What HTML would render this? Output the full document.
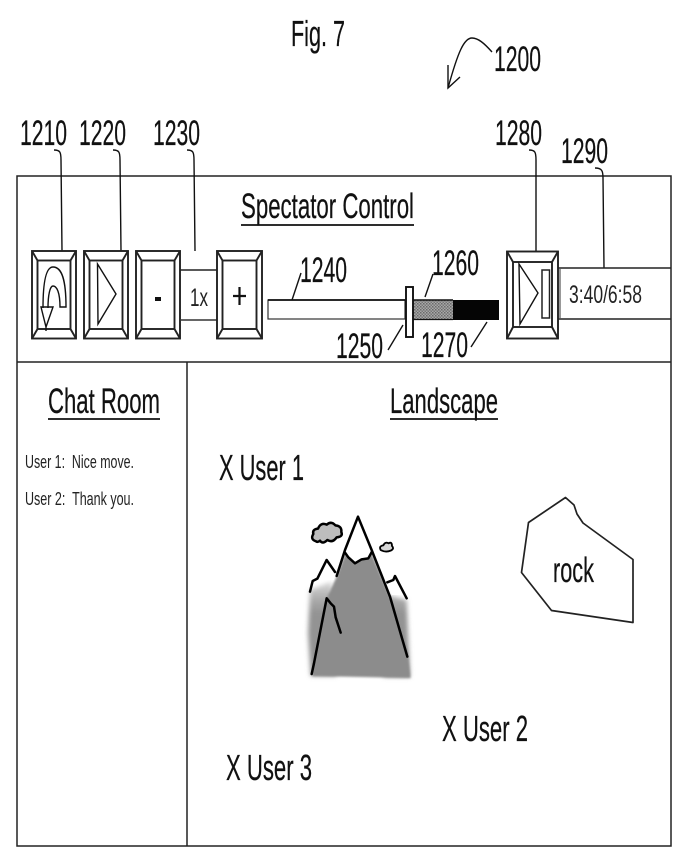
<!DOCTYPE html>
<html>
<head>
<meta charset="utf-8">
<style>
html,body{margin:0;padding:0;background:#fff;}
svg{display:block;}
text{font-family:"Liberation Sans",sans-serif;fill:#111;stroke:#111;stroke-width:0.25;}
.n{font-size:35px;}
.l{fill:none;stroke:#111;stroke-width:1.4;}
.b{fill:none;stroke:#222;stroke-width:1.9;}
</style>
</head>
<body>
<svg width="683" height="867" viewBox="0 0 683 867" xmlns="http://www.w3.org/2000/svg">
<defs>
<pattern id="dots" width="3" height="3" patternUnits="userSpaceOnUse">
<rect width="3" height="3" fill="#a8a8a8"/>
<rect width="1.5" height="1.5" fill="#6a6a6a"/>
<rect x="1.5" y="1.5" width="1.5" height="1.5" fill="#777"/>
</pattern>
<pattern id="mdots" width="9" height="9" patternUnits="userSpaceOnUse">
<rect width="9" height="9" fill="#a0a0a0"/>
<rect width="4.5" height="4.5" fill="#6e6e6e"/>
<rect x="4.5" y="4.5" width="4.5" height="4.5" fill="#7a7a7a"/>
</pattern>
<filter id="soft" x="-10%" y="-10%" width="120%" height="120%"><feGaussianBlur stdDeviation="0.9"/></filter>
<filter id="soft2" x="-30%" y="-30%" width="160%" height="160%"><feGaussianBlur stdDeviation="7"/></filter>
<filter id="soft3" x="-10%" y="-10%" width="120%" height="120%"><feGaussianBlur stdDeviation="3"/></filter>
<linearGradient id="fade" gradientUnits="userSpaceOnUse" x1="0" y1="240" x2="0" y2="340">
<stop offset="0" stop-color="#ddd"/>
<stop offset="0.6" stop-color="#aaa"/>
<stop offset="1" stop-color="#939393"/>
</linearGradient>
</defs>

<!-- Title and figure reference -->
<text x="291" y="46" font-size="36" textLength="54" lengthAdjust="spacingAndGlyphs">Fig. 7</text>
<text x="494" y="71" class="n" textLength="47" lengthAdjust="spacingAndGlyphs">1200</text>
<path class="l" d="M492 52 C484 43 478 38 472 38 C464 38 458 52 448 88"/>
<path class="l" d="M448 65 L448 88 L460 77"/>

<!-- Frame -->
<rect x="17" y="176" width="654" height="670" fill="none" stroke="#222" stroke-width="1.5"/>
<line x1="17" y1="362" x2="671" y2="362" stroke="#222" stroke-width="1.6"/>
<line x1="187" y1="362" x2="187" y2="846" stroke="#222" stroke-width="1.5"/>

<!-- Reference numbers -->
<text x="20" y="145" class="n" textLength="47" lengthAdjust="spacingAndGlyphs">1210</text>
<text x="79" y="145" class="n" textLength="47" lengthAdjust="spacingAndGlyphs">1220</text>
<text x="153" y="145" class="n" textLength="47" lengthAdjust="spacingAndGlyphs">1230</text>
<text x="495" y="145" class="n" textLength="47" lengthAdjust="spacingAndGlyphs">1280</text>
<text x="561" y="163" class="n" textLength="47" lengthAdjust="spacingAndGlyphs">1290</text>
<text x="300" y="282" class="n" textLength="47" lengthAdjust="spacingAndGlyphs">1240</text>
<text x="432" y="275" class="n" textLength="47" lengthAdjust="spacingAndGlyphs">1260</text>
<text x="336" y="358" class="n" textLength="47" lengthAdjust="spacingAndGlyphs">1250</text>
<text x="421" y="357" class="n" textLength="47" lengthAdjust="spacingAndGlyphs">1270</text>

<!-- Leaders -->
<path class="l" d="M54 150 C60 150 61 152 61 160 L62 251"/>
<path class="l" d="M113 150 C119 150 120 152 120 160 L121 251"/>
<path class="l" d="M187 150 C193 150 194 152 194 160 L195 251"/>
<path class="l" d="M529 150 C535 150 536 152 536 160 L536 251"/>
<path class="l" d="M595 168 C602 168 603 171 603 178 L604 268"/>
<path class="l" d="M292 300 L301 273"/>
<path class="l" d="M425 297 L433 274"/>
<path class="l" d="M388 350 L403 325"/>
<path class="l" d="M471 347 L487 322"/>

<!-- Heading -->
<text x="241" y="218" font-size="35" textLength="173" lengthAdjust="spacingAndGlyphs">Spectator Control</text>
<line x1="241" y1="225" x2="414" y2="225" stroke="#111" stroke-width="1.8"/>

<!-- Button 1210 -->
<g class="b">
<rect x="32" y="251" width="44" height="87.5"/>
<rect x="37.5" y="260.5" width="33" height="68.5"/>
<path d="M32 251 L37.5 260.5 M76 251 L70.5 260.5 M32 338.5 L37.5 329 M76 338.5 L70.5 329"/>
</g>
<path class="l" d="M43 308 C43 282 46 267 53 267 C62 267 66 280 66 307 L60 307 C60 293 57 286 53 286 C50 286 48 295 48 308"/>
<path class="l" d="M41 307 L53 307 L46 327 Z M46 327 L46 331"/>

<!-- Button 1220 -->
<g class="b">
<rect x="84" y="251" width="44" height="87.5"/>
<rect x="89.5" y="260.5" width="33" height="68.5"/>
<path d="M84 251 L89.5 260.5 M128 251 L122.5 260.5 M84 338.5 L89.5 329 M128 338.5 L122.5 329"/>
</g>
<path class="l" d="M97.5 264 L116 294 L98 324 Z"/>

<!-- Minus button -->
<g class="b">
<rect x="136" y="251" width="44" height="87.5"/>
<rect x="141.5" y="260.5" width="33" height="68.5"/>
<path d="M136 251 L141.5 260.5 M180 251 L174.5 260.5 M136 338.5 L141.5 329 M180 338.5 L174.5 329"/>
</g>
<rect x="155" y="297" width="6" height="4" fill="#111"/>

<!-- Speed box -->
<line x1="180" y1="270" x2="217" y2="270" stroke="#222" stroke-width="1.6"/>
<line x1="180" y1="320" x2="217" y2="320" stroke="#333" stroke-width="1.4"/>
<text x="190" y="306" font-size="25" textLength="18" lengthAdjust="spacingAndGlyphs" style="fill:#222;stroke:none">1x</text>

<!-- Plus button -->
<g class="b">
<rect x="217" y="251" width="45" height="87.5"/>
<rect x="222.5" y="260.5" width="34" height="68.5"/>
<path d="M217 251 L222.5 260.5 M262 251 L256.5 260.5 M217 338.5 L222.5 329 M262 338.5 L256.5 329"/>
</g>
<path d="M239.5 287 V305 M233 296 H246" stroke="#111" stroke-width="2.2" fill="none"/>

<!-- Slider -->
<rect x="268" y="300" width="137" height="19" fill="#fff" stroke="#333" stroke-width="1.2"/>
<line x1="268" y1="300" x2="405" y2="300" stroke="#111" stroke-width="1.8"/>
<rect x="413" y="300" width="41" height="19" fill="url(#dots)"/>
<rect x="453" y="300" width="46" height="20" fill="#050505"/>
<line x1="413" y1="300" x2="453" y2="300" stroke="#111" stroke-width="1.5"/>
<line x1="413" y1="319.5" x2="453" y2="319.5" stroke="#111" stroke-width="1.3"/>
<rect x="406" y="287" width="7" height="50" fill="#fff" stroke="#111" stroke-width="1.9"/>

<!-- Button 1280 -->
<g class="b">
<rect x="507" y="251.5" width="51" height="87"/>
<rect x="513" y="262" width="39" height="65"/>
<path d="M507 251.5 L513 262 M558 251.5 L552 262 M507 338.5 L513 327 M558 338.5 L552 327"/>
</g>
<path class="l" d="M519 264 L538 293 L520 324 Z"/>
<rect x="542" y="270" width="7.5" height="48" fill="none" stroke="#222" stroke-width="1.5"/>

<!-- Time box -->
<line x1="558" y1="268" x2="671" y2="268" stroke="#222" stroke-width="1.4"/>
<line x1="558" y1="319" x2="671" y2="319" stroke="#222" stroke-width="1.4"/>
<line x1="560" y1="268" x2="560" y2="319" stroke="#555" stroke-width="1.2"/>
<text x="569" y="303" font-size="25" textLength="73" lengthAdjust="spacingAndGlyphs" style="fill:#222;stroke:none">3:40/6:58</text>

<!-- Chat -->
<text x="48" y="413" font-size="35" textLength="112" lengthAdjust="spacingAndGlyphs">Chat Room</text>
<line x1="48" y1="419" x2="160" y2="419" stroke="#111" stroke-width="1.8"/>
<text x="25" y="468" font-size="18.5" textLength="109" lengthAdjust="spacingAndGlyphs" xml:space="preserve" style="fill:#222;stroke:none">User 1:  Nice move.</text>
<text x="25" y="505" font-size="18.5" textLength="109" lengthAdjust="spacingAndGlyphs" xml:space="preserve" style="fill:#222;stroke:none">User 2:  Thank you.</text>

<!-- Landscape -->
<text x="390" y="413" font-size="35" textLength="108" lengthAdjust="spacingAndGlyphs">Landscape</text>
<line x1="390" y1="419" x2="498" y2="419" stroke="#111" stroke-width="1.8"/>
<text x="219" y="480" font-size="36" textLength="85" lengthAdjust="spacingAndGlyphs">X User 1</text>
<text x="442" y="741" font-size="36" textLength="86" lengthAdjust="spacingAndGlyphs">X User 2</text>
<text x="226" y="780" font-size="36" textLength="86" lengthAdjust="spacingAndGlyphs">X User 3</text>

<!-- Mountain -->
<g transform="translate(290,500) scale(0.3333)">
<!-- soft flanks -->
<path d="M60 270 L125 245 L140 528 L62 528 L54 400 Z" fill="url(#fade)" filter="url(#soft2)"/>
<path d="M295 285 L350 300 L360 530 L280 530 Z" fill="url(#fade)" filter="url(#soft2)"/>
<!-- main body -->
<path d="M66 528 L110 295 L140 230 L166 160 L245 160 L300 290 L352 450 L362 534 Z" fill="url(#mdots)" filter="url(#soft3)"/>
<!-- snow -->
<path d="M204 50 L165 155 L175 172 L196 192 L216 180 L238 175 L247 155 Z" fill="#fff"/>
<path d="M84 238 L110 183 L135 218 L132 240 L90 240 Z" fill="#fff"/>
<path d="M297 252 L315 232 L345 285 L305 285 Z" fill="#fff"/>
<g fill="none" stroke="#000" stroke-width="7.5" stroke-linejoin="round" stroke-linecap="round" filter="url(#soft)">
<path d="M140 228 L165 150 L204 50 L245 150 L300 290 L352 470"/>
<path d="M165 158 L175 172 L195 190 L215 178 L235 175 L246 155"/>
<path d="M60 275 L68 243 L82 236 L110 180 L135 216"/>
<path d="M292 247 L310 240 L315 228 L350 295"/>
<path d="M65 522 L72 490 L110 295 L122 310 L132 320 L137 352 L152 398"/>
<path d="M78 124 Q60 118 70 102 Q66 88 84 86 Q92 66 110 74 Q124 62 136 76 Q156 78 154 96 Q160 110 140 112 Q128 130 112 120 Q98 134 90 122 Q84 128 78 124 Z" fill="#bdbdbd"/>
<path d="M272 150 Q266 138 280 136 Q286 124 296 130 Q306 124 306 138 Q314 146 302 152 Q286 158 272 150 Z" fill="#d6d6d6" stroke-width="5.5"/>
</g>
</g>

<!-- Rock -->
<path d="M565.5 497.5 L528.5 522.5 L521.5 572.5 L551.5 610.5 L633 622.5 L633 559.5 L583 523 L577 514 L574 505 Z" fill="none" stroke="#222" stroke-width="1.7" stroke-linejoin="round"/>
<text x="553" y="582" font-size="35" textLength="41" lengthAdjust="spacingAndGlyphs">rock</text>
</svg>
</body>
</html>
